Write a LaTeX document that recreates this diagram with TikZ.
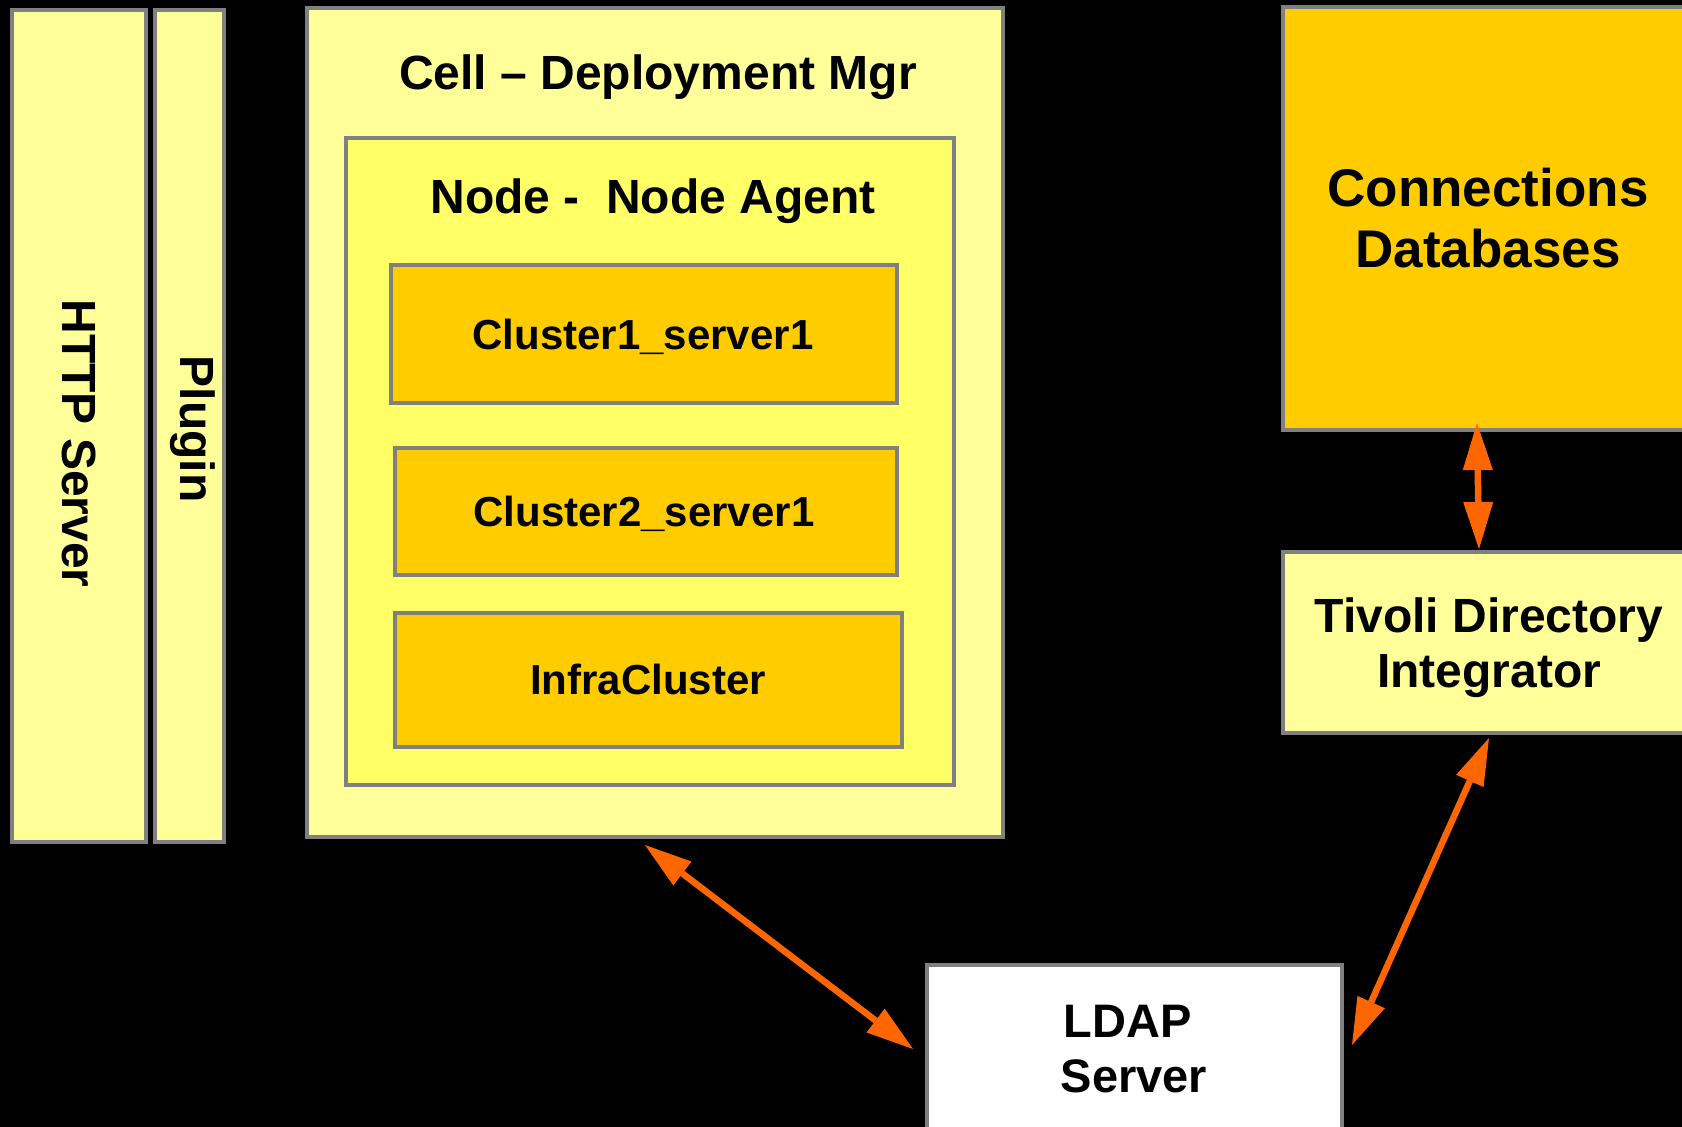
\documentclass[tikz,border=0pt]{standalone}
\usepackage{fontspec}
\setmainfont{Liberation Sans}
\usetikzlibrary{arrows.meta,calc}
\definecolor{paleY}{HTML}{FFFF99}
\definecolor{midY}{HTML}{FFFF66}
\definecolor{gold}{HTML}{FFCC00}
\definecolor{orng}{HTML}{FF6600}
\definecolor{edgegray}{HTML}{808080}
\begin{document}
\begin{tikzpicture}[x=1pt,y=-1pt,
  box/.style={draw=edgegray, line width=4pt, rectangle, inner sep=0pt, outer sep=0pt},
  lbl/.style={anchor=base, align=center, inner sep=0pt, outer sep=0pt, text=black},
  fA/.style={font=\fontsize{48}{55}\selectfont\bfseries},
  fB/.style={font=\fontsize{42}{48}\selectfont\bfseries},
  fC/.style={font=\fontsize{53}{61}\selectfont\bfseries},
  fD/.style={font=\fontsize{47}{55}\selectfont\bfseries},
  tipshape/.tip={Triangle[length=47pt,width=30pt,line width=0pt]},
  conn/.style={color=orng, line width=6.5pt, tipshape-tipshape},
]
\useasboundingbox (0,0) rectangle (1682,1127);
\clip (0,0) rectangle (1682,1127);
\fill[black] (0,0) rectangle (1682,1127);

% left bars
\node[box, fill=paleY, minimum width=134pt, minimum height=832pt] (http) at (79,426) {};
\node[box, fill=paleY, minimum width=69pt, minimum height=832pt] (plugin) at (189.5,426) {};
\node[lbl, fA, rotate=-90] (thttp) at (62,443.5) {HTTP Server};
\node[lbl, fA, rotate=-90] (tplugin) at (180,429) {Plugin};

% cell
\node[box, fill=paleY, minimum width=696pt, minimum height=829pt] (cell) at (655,422.5) {};
\node[lbl, fA] (tcell) at (658,89.5) {Cell -- Deployment Mgr};
\node[box, fill=midY, minimum width=608pt, minimum height=647pt] (nodeag) at (650,461.5) {};
\node[lbl, fA] (tnode) at (653,213) {Node -~ Node Agent};
\node[box, fill=gold, minimum width=506pt, minimum height=138pt] (c1) at (644,334) {};
\node[lbl, fB] (tc1) at (643,349) {Cluster1\_server1};
\node[box, fill=gold, minimum width=502pt, minimum height=127pt] (c2) at (646,511.5) {};
\node[lbl, fB] (tc2) at (644,526) {Cluster2\_server1};
\node[box, fill=gold, minimum width=507pt, minimum height=134pt] (infra) at (648.5,680) {};
\node[lbl, fB] (tinfra) at (648,694) {InfraCluster};

% right side
\node[box, fill=gold, minimum width=410pt, minimum height=423pt] (db) at (1488,218.5) {};
\node[lbl, fC] (tdb) at (1488,267) {Connections\\Databases};
\node[box, fill=paleY, minimum width=410pt, minimum height=181pt] (tdi) at (1488,642.5) {};
\node[lbl, fA] (ttdi) at (1489,687) {Tivoli Directory\\Integrator};
\node[box, fill=white, minimum width=415pt, minimum height=175pt] (ldap) at (1134.5,1052.5) {};
\node[lbl, fD] (tldap) at (1134,1092) {LDAP\hspace*{0.278em}\\Server};

% connectors
\draw[conn] ($(cell.south)+(-10,8)$) -- ($(ldap.north west)+(-14,84)$);
\draw[conn] ($(db.south)+(-11,-7)$) -- ($(tdi.north)+(-9,-3)$);
\draw[conn] ($(tdi.south)+(1,5)$) -- ($(ldap.north east)+(10,80)$);
\end{tikzpicture}
\end{document}
